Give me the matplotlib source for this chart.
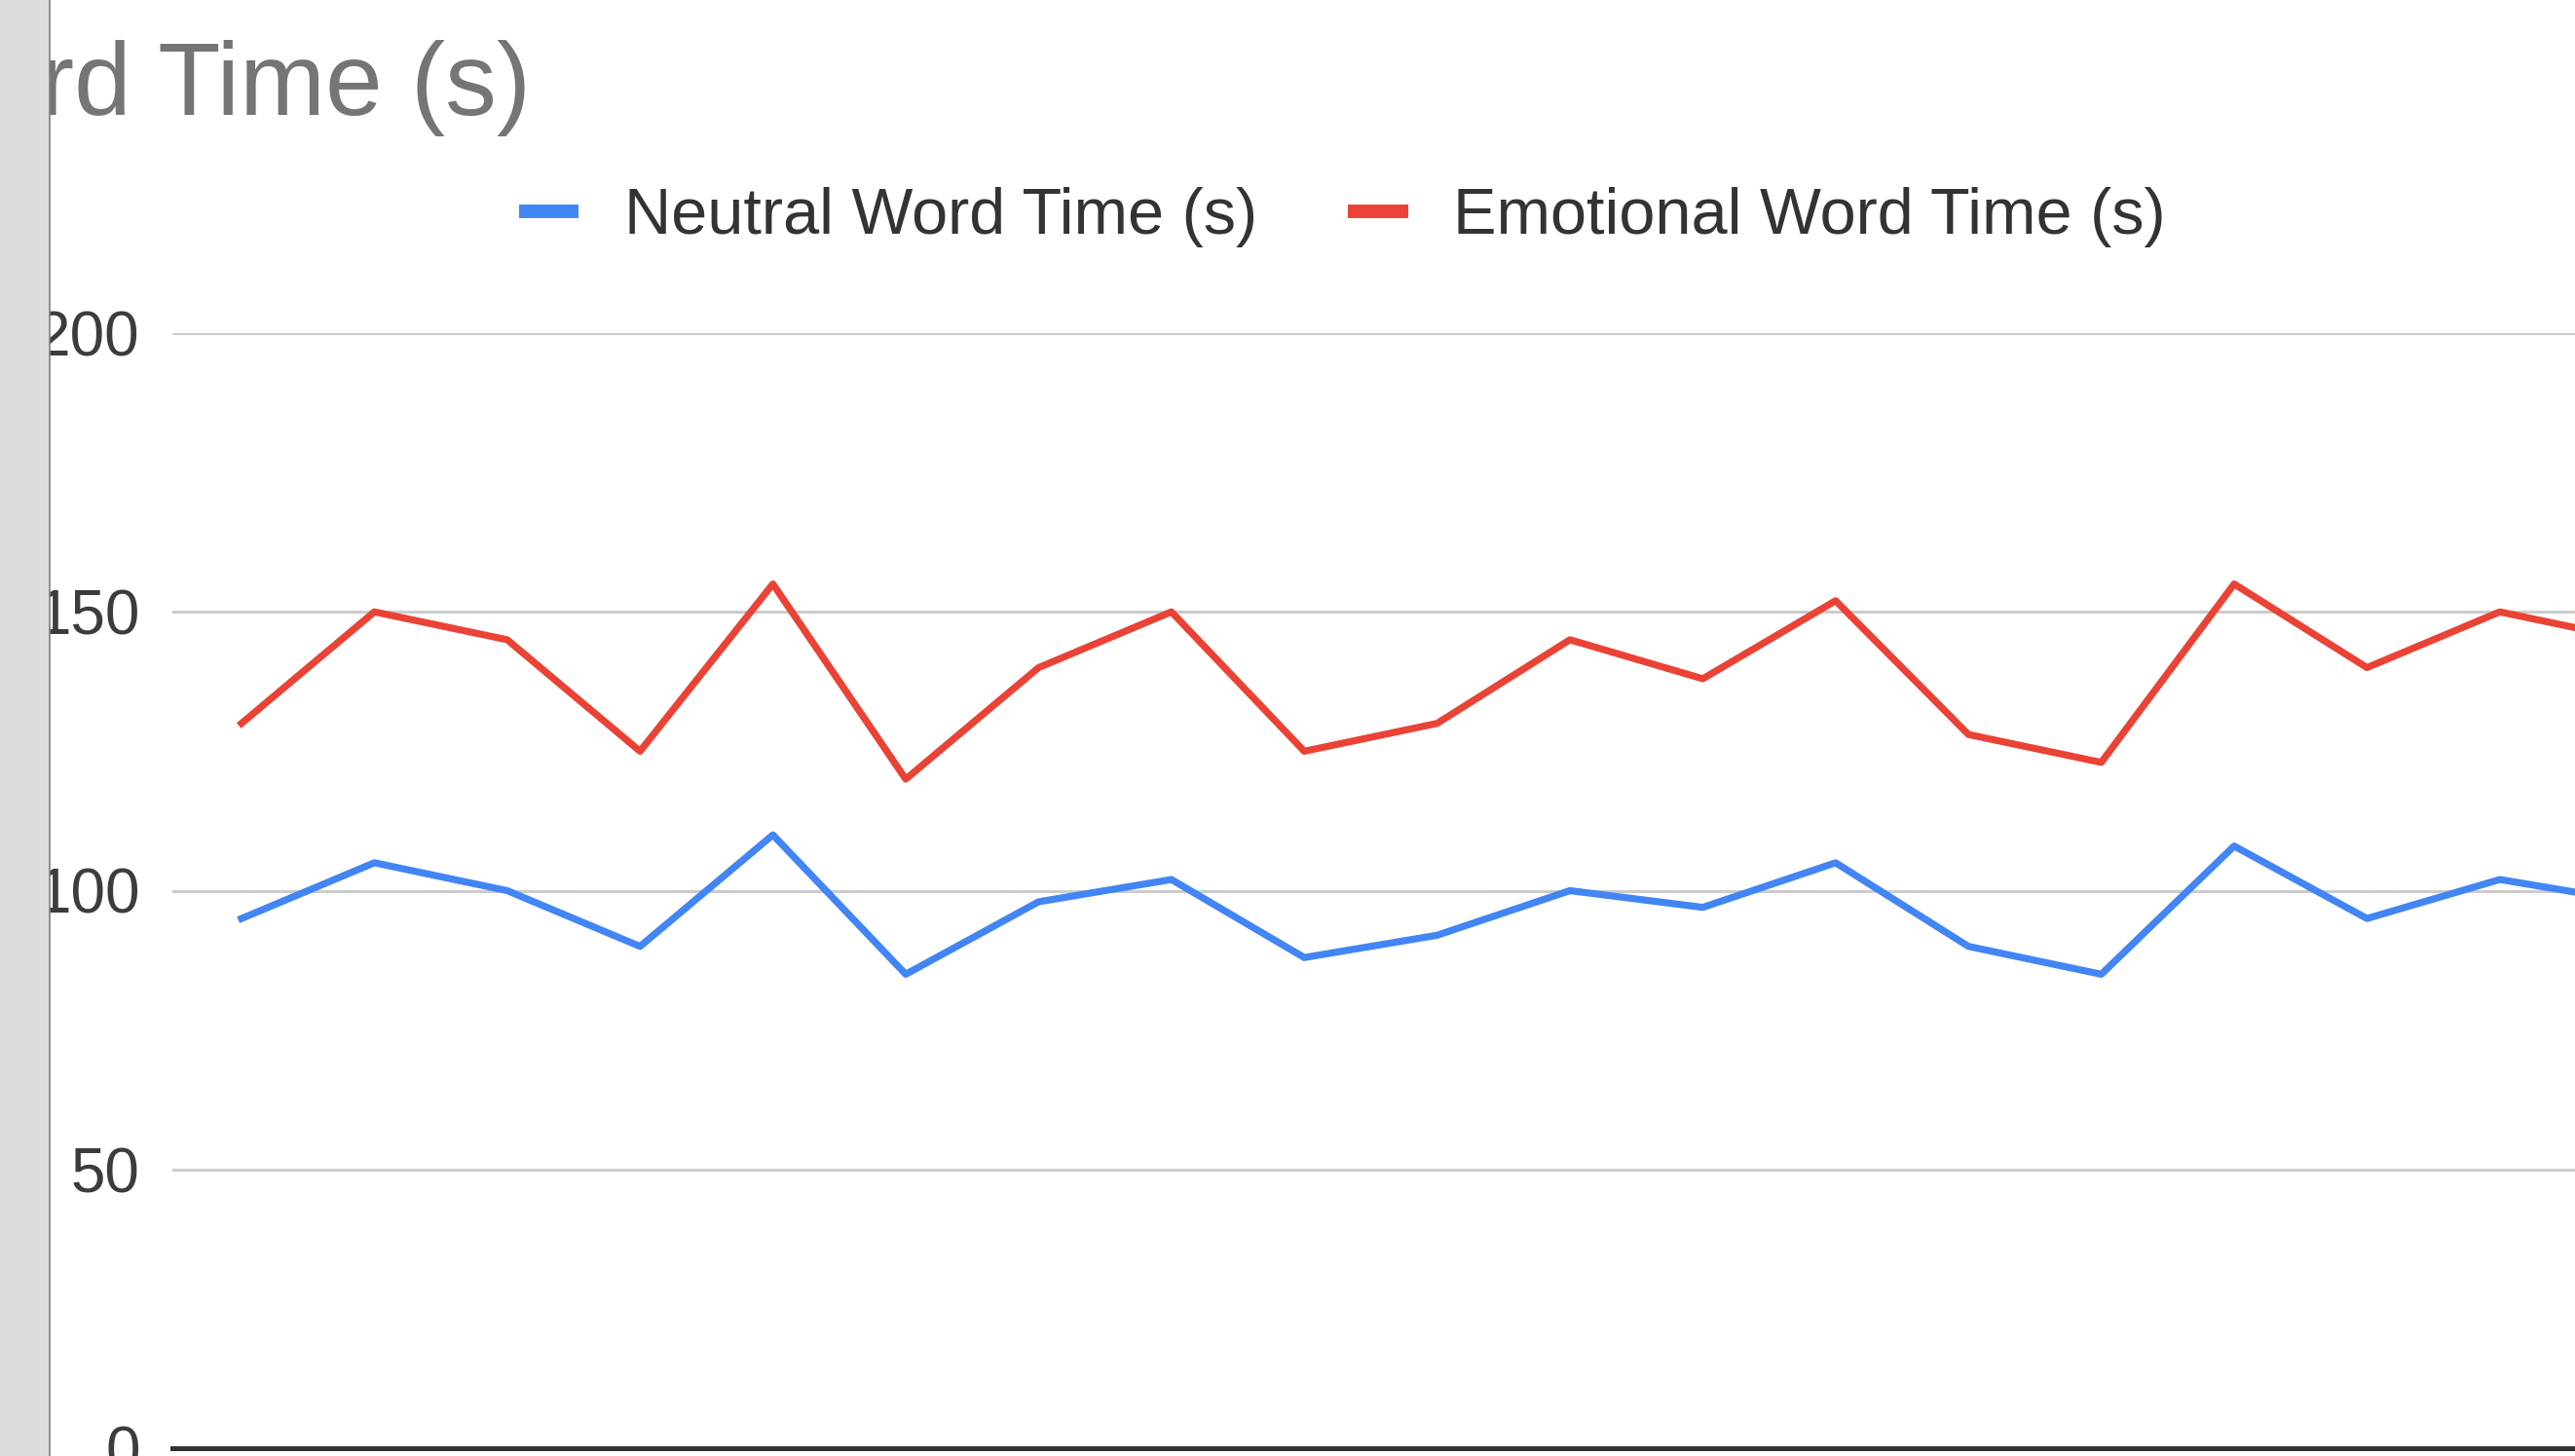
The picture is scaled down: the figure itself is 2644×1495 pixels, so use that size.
import matplotlib.pyplot as plt
from matplotlib.patches import Rectangle
from matplotlib.lines import Line2D

plt.rcParams['font.family'] = ['Liberation Sans', 'DejaVu Sans']

# data (x labels are cut off in the screenshot)
trials = list(range(1, 20))
neutral = [95, 105, 100, 90, 110, 85, 98, 102, 88, 92,
           100, 97, 105, 90, 85, 108, 95, 102, 98]
emotional = [130, 150, 145, 125, 155, 120, 140, 150, 125, 130,
             145, 138, 152, 128, 123, 155, 140, 150, 145]
series_names = ['Neutral Word Time (s)', 'Emotional Word Time (s)']
y_ticks = [0, 50, 100, 150, 200]

W, H = 2644, 1495
fig = plt.figure(figsize=(W / 100, H / 100), dpi=100)
ax = fig.add_axes([177 / W, 8 / H, 1 - 177 / W, (1487 - 342) / H])

ax.plot(trials, neutral, color='#4285F4', lw=5.2, label=series_names[0])
ax.plot(trials, emotional, color='#EA4335', lw=5.2, label=series_names[1])

step = 136.4
ax.set_xlim(1 + (177 - 248) / step, 1 + (W - 248) / step)
ax.set_ylim(0, 200)
ax.set_yticks(y_ticks)
ax.set_xticks([])
ax.tick_params(axis='y', length=0, pad=24, labelsize=46, labelcolor='#3c3c3c')
ax.yaxis.grid(True, color='#cccccc', lw=2.2)
ax.set_axisbelow(True)
for s in ['top', 'right', 'left']:
    ax.spines[s].set_visible(False)
ax.spines['bottom'].set_color('#333333')
ax.spines['bottom'].set_linewidth(3.6)

leg = fig.legend(loc='center left', bbox_to_anchor=(533 / W, 1 - 223 / H),
                 ncol=2, frameon=False, fontsize=48, borderpad=0,
                 borderaxespad=0, handlelength=0.92, handletextpad=0.7,
                 columnspacing=1.4, labelcolor='#333333')
for h in leg.legend_handles:
    h.set_linewidth(10)
    h.set_solid_capstyle('butt')

fig.text(545 / W, 1 - 118 / H, 'rd Time (s)', ha='right', va='baseline',
         fontsize=76, color='#757575')

# grey sidebar of the spreadsheet window on the left
fig.patches.append(Rectangle((0, 0), 51 / W, 1, transform=fig.transFigure,
                             facecolor='#dddddd', edgecolor='none', zorder=10))
fig.add_artist(Line2D([51 / W, 51 / W], [0, 1], color='#808080', lw=1.2, zorder=11))

fig.savefig('out.png', dpi=100)
